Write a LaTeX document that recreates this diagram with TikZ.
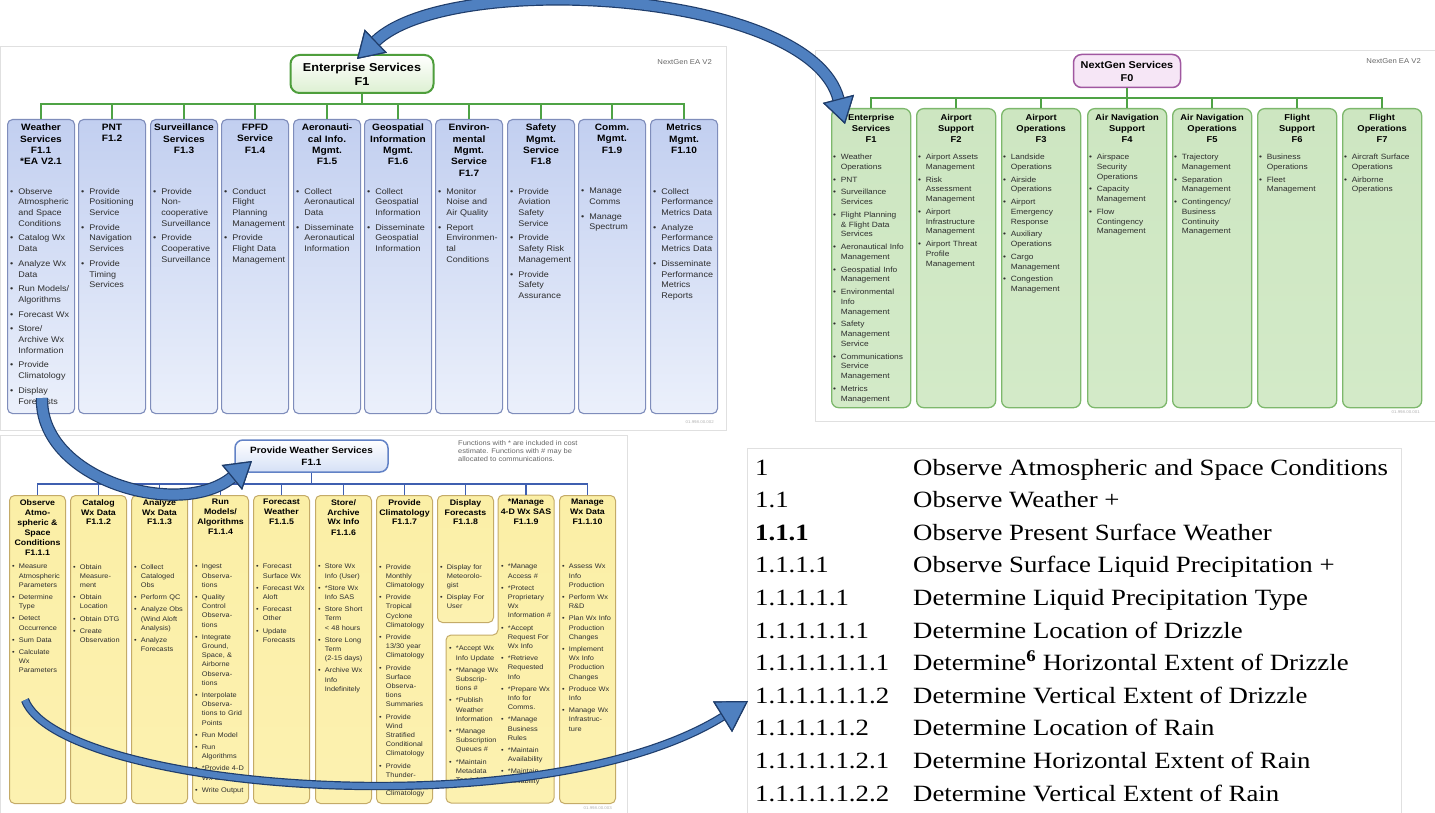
\documentclass[tikz,border=0pt]{standalone}
\usepackage{fontspec}
\setmainfont{Liberation Sans}[FakeStretch=1.1]
\newfontfamily\docfont{Liberation Serif}[FakeStretch=1.15]
\usetikzlibrary{positioning, arrows.meta}
\hyphenpenalty=10000
\exhyphenpenalty=10000

\definecolor{panelline}{HTML}{E0E0E0}
\definecolor{acoledge}{HTML}{7F8DBB}
\definecolor{acoltop}{HTML}{C2CFF0}
\definecolor{acolbot}{HTML}{EBF0FB}
\definecolor{bcoledge}{HTML}{7DB86C}
\definecolor{bcoltop}{HTML}{CDE6C1}
\definecolor{bcolmid}{HTML}{EDF7E8}
\definecolor{bcolbot}{HTML}{D3EAC8}
\definecolor{ccoledge}{HTML}{C4AB68}
\definecolor{ccoltop}{HTML}{FBEFA6}
\definecolor{ccolmid}{HTML}{FEF9D8}
\definecolor{ccolbot}{HTML}{FCF1B0}
\definecolor{entedge}{HTML}{4E9E3C}
\definecolor{entfill}{HTML}{DDF0D2}
\definecolor{ngedge}{HTML}{A057A0}
\definecolor{ngfill}{HTML}{F6E6F6}
\definecolor{pwedge}{HTML}{6282C6}
\definecolor{pwfill}{HTML}{D5E0F6}
\definecolor{linegreen}{HTML}{4FA345}
\definecolor{lineblue}{HTML}{3F5FB0}
\definecolor{listgray}{HTML}{2E2E2E}
\definecolor{vergray}{HTML}{666666}
\definecolor{arrowfill}{HTML}{4F80C0}
\definecolor{arrowedge}{HTML}{1F3D6B}

\newlength{\itmgap}
\newcommand{\brk}{\newline}
\newcommand{\itm}[1]{\hangindent=1em\hangafter=1\noindent\makebox[1em][l]{\textbullet}#1\par\vspace{\itmgap}}

\tikzset{panel/.style={draw=panelline, fill=white, line width=0.8pt},
         entbox/.style={draw=entedge, line width=2pt, rounded corners=9pt, top color=white, bottom color=entfill, minimum width=143pt, minimum height=38pt, align=center, font=\fontsize{11.5}{14}\selectfont\bfseries},
         ngbox/.style={draw=ngedge, line width=1.5pt, rounded corners=8pt, fill=ngfill, minimum width=107pt, minimum height=33pt, align=center, font=\fontsize{9.9}{13}\selectfont\bfseries},
         pwbox/.style={draw=pwedge, line width=1.5pt, rounded corners=8pt, top color=white, bottom color=pwfill, minimum width=153pt, minimum height=32pt, align=center, font=\fontsize{9.1}{12}\selectfont\bfseries},
         acol/.style={draw=acoledge, line width=1.1pt, rounded corners=5pt, top color=acoltop, bottom color=acolbot, minimum width=67pt, minimum height=294pt, inner sep=0pt, anchor=north west},
         bcol/.style={draw=bcoledge, line width=1.3pt, rounded corners=7pt, top color=bcoltop, middle color=bcolmid, bottom color=bcolbot, minimum width=79pt, minimum height=299pt, inner sep=0pt, anchor=north west},
         ccol/.style={draw=ccoledge, line width=1pt, rounded corners=5pt, top color=ccoltop, middle color=ccolmid, bottom color=ccolbot, minimum width=56pt, minimum height=308pt, inner sep=0pt, anchor=north west},
         ccolshape/.style={draw=ccoledge, line width=1pt, rounded corners=5pt, top color=ccoltop, middle color=ccolmid, bottom color=ccolbot},
         atitle/.style={align=center, inner sep=0pt, font=\fontsize{9.2}{11.3}\selectfont\bfseries},
         btitle/.style={align=center, inner sep=0pt, font=\fontsize{8.5}{11}\selectfont\bfseries},
         ctitle/.style={align=center, inner sep=0pt, font=\fontsize{8}{10}\selectfont\bfseries},
         alist/.style={text width=64pt, align=left, inner sep=0pt, text=listgray, font=\fontsize{8.2}{10.7}\selectfont\setlength{\itmgap}{4pt}},
         blist/.style={text width=76pt, align=left, inner sep=0pt, text=listgray, font=\fontsize{7.6}{9.75}\selectfont\setlength{\itmgap}{3pt}},
         clist/.style={text width=53pt, align=left, inner sep=0pt, text=listgray, font=\fontsize{6.7}{9.2}\selectfont\setlength{\itmgap}{3pt}},
         gbus/.style={draw=linegreen, line width=1.6pt},
         cbus/.style={draw=lineblue, line width=1.1pt},
         ver/.style={font=\fontsize{7}{8}\selectfont, text=vergray, inner sep=0pt, anchor=east},
         idtag/.style={font=\fontsize{4}{5}\selectfont, text=black!30, inner sep=0pt, anchor=east},
         note/.style={font=\fontsize{6.8}{8}\selectfont, text=vergray, align=left, inner sep=0pt, anchor=north west},
         num/.style={font=\docfont\fontsize{23.3}{26}\selectfont, inner sep=0pt, anchor=base west},
         bigarrow/.style={>={Triangle[length=26pt,width=32pt,line width=1.2pt,color=arrowedge,fill=arrowfill]}, draw=arrowfill, line width=10pt, preaction={draw=arrowedge, line width=12.4pt}},
         longarrow/.style={>={Triangle[length=30pt,width=36pt,line width=1.2pt,color=arrowedge,fill=arrowfill]}, draw=arrowfill, line width=6pt, preaction={draw=arrowedge, line width=8.4pt}},
        }

\begin{document}
\begin{tikzpicture}[x=1pt,y=-1pt]
        \useasboundingbox (0,0) rectangle (1435,813);

        \draw[panel] (0,46) rectangle (726,430);
        \draw[panel] (815,50) rectangle (1435,421);
        \draw[panel] (0,435) rectangle (627,813);
        \draw[panel] (747,448) rectangle (1401,813);

        % enterprise services
        \node[entbox](ent)at(362,74){Enterprise Services\\F1};
        \node[ver](verA)at(712,62){NextGen EA V2};
        \coordinate(busA)at(362,104);

        \node[acol](a1)at(7,119){};
        \node[acol](a2)at(78,119){};
        \node[acol](a3)at(150,119){};
        \node[acol](a4)at(221,119){};
        \node[acol](a5)at(293,119){};
        \node[acol](a6)at(364,119){};
        \node[acol](a7)at(435,119){};
        \node[acol](a8)at(507,119){};
        \node[acol](a9)at(578,119){};
        \node[acol](a10)at(650,119){};

        \node[atitle, below=5pt of a1.north](a1t){Weather\\Services\\F1.1\\*EA V2.1};
        \node[atitle, below=5pt of a2.north](a2t){PNT\\F1.2};
        \node[atitle, below=5pt of a3.north](a3t){Surveillance\\Services\\F1.3};
        \node[atitle, below=5pt of a4.north](a4t){FPFD\\Service\\F1.4};
        \node[atitle, below=5pt of a5.north](a5t){Aeronauti-\\cal Info.\\Mgmt.\\F1.5};
        \node[atitle, below=5pt of a6.north](a6t){Geospatial\\Information\\Mgmt.\\F1.6};
        \node[atitle, below=5pt of a7.north](a7t){Environ-\\mental\\Mgmt.\\Service\\F1.7};
        \node[atitle, below=5pt of a8.north](a8t){Safety\\Mgmt.\\Service\\F1.8};
        \node[atitle, below=5pt of a9.north](a9t){Comm.\\Mgmt.\\F1.9};
        \node[atitle, below=5pt of a10.north](a10t){Metrics\\Mgmt.\\F1.10};

        \node[alist, below right=69pt and 3pt of a1.north west](a1l){\itm{Observe\brk Atmospheric\brk and Space\brk Conditions}\itm{Catalog Wx\brk Data}\itm{Analyze Wx\brk Data}\itm{Run Models/\brk Algorithms}\itm{Forecast Wx}\itm{Store/\brk Archive Wx\brk Information}\itm{Provide\brk Climatology}\itm{Display\brk Forecasts}};
        \node[alist, below right=69pt and 3pt of a2.north west](a2l){\itm{Provide\brk Positioning\brk Service}\itm{Provide\brk Navigation\brk Services}\itm{Provide\brk Timing\brk Services}};
        \node[alist, below right=69pt and 3pt of a3.north west](a3l){\itm{Provide\brk Non-\brk cooperative\brk Surveillance}\itm{Provide\brk Cooperative\brk Surveillance}};
        \node[alist, below right=69pt and 3pt of a4.north west](a4l){\itm{Conduct\brk Flight\brk Planning\brk Management}\itm{Provide\brk Flight Data\brk Management}};
        \node[alist, below right=69pt and 3pt of a5.north west](a5l){\itm{Collect\brk Aeronautical\brk Data}\itm{Disseminate\brk Aeronautical\brk Information}};
        \node[alist, below right=69pt and 3pt of a6.north west](a6l){\itm{Collect\brk Geospatial\brk Information}\itm{Disseminate\brk Geospatial\brk Information}};
        \node[alist, below right=69pt and 3pt of a7.north west](a7l){\itm{Monitor\brk Noise and\brk Air Quality}\itm{Report\brk Environmen-\brk tal\brk Conditions}};
        \node[alist, below right=69pt and 3pt of a8.north west](a8l){\itm{Provide\brk Aviation\brk Safety\brk Service}\itm{Provide\brk Safety Risk\brk Management}\itm{Provide\brk Safety\brk Assurance}};
        \node[alist, below right=69pt and 3pt of a9.north west](a9l){\itm{Manage\brk Comms}\itm{Manage\brk Spectrum}};
        \node[alist, below right=69pt and 3pt of a10.north west](a10l){\itm{Collect\brk Performance\brk Metrics Data}\itm{Analyze\brk Performance\brk Metrics Data}\itm{Disseminate\brk Performance\brk Metrics\brk Reports}};

        \draw[gbus](ent)--(busA);
        \draw[gbus](a1.north)|-(busA)-|(a10.north);
        \draw[gbus](a2.north)--(a2.north|-busA);
        \draw[gbus](a3.north)--(a3.north|-busA);
        \draw[gbus](a4.north)--(a4.north|-busA);
        \draw[gbus](a5.north)--(a5.north|-busA);
        \draw[gbus](a6.north)--(a6.north|-busA);
        \draw[gbus](a7.north)--(a7.north|-busA);
        \draw[gbus](a8.north)--(a8.north|-busA);
        \draw[gbus](a9.north)--(a9.north|-busA);
        \node[idtag](idA)at(714,422){01.998.00.002};

        % nextgen services
        \node[ngbox](ngs)at(1127,71){NextGen Services\\F0};
        \node[ver](verB)at(1421,61){NextGen EA V2};
        \coordinate(busB)at(1127,98);

        \node[bcol](b1)at(831,108){};
        \node[bcol](b2)at(916,108){};
        \node[bcol](b3)at(1001,108){};
        \node[bcol](b4)at(1087,108){};
        \node[bcol](b5)at(1172,108){};
        \node[bcol](b6)at(1257,108){};
        \node[bcol](b7)at(1342,108){};

        \node[btitle, below=6pt of b1.north](b1t){Enterprise\\Services\\F1};
        \node[btitle, below=6pt of b2.north](b2t){Airport\\Support\\F2};
        \node[btitle, below=6pt of b3.north](b3t){Airport\\Operations\\F3};
        \node[btitle, below=6pt of b4.north](b4t){Air Navigation\\Support\\F4};
        \node[btitle, below=6pt of b5.north](b5t){Air Navigation\\Operations\\F5};
        \node[btitle, below=6pt of b6.north](b6t){Flight\\Support\\F6};
        \node[btitle, below=6pt of b7.north](b7t){Flight\\Operations\\F7};

        \node[blist, below right=46pt and 2pt of b1.north west](b1l){\itm{Weather\brk Operations}\itm{PNT}\itm{Surveillance\brk Services}\itm{Flight Planning\brk \& Flight Data\brk Services}\itm{Aeronautical Info\brk Management}\itm{Geospatial Info\brk Management}\itm{Environmental\brk Info\brk Management}\itm{Safety\brk Management\brk Service}\itm{Communications\brk Service\brk Management}\itm{Metrics\brk Management}};
        \node[blist, below right=46pt and 2pt of b2.north west](b2l){\itm{Airport Assets\brk Management}\itm{Risk\brk Assessment\brk Management}\itm{Airport\brk Infrastructure\brk Management}\itm{Airport Threat\brk Profile\brk Management}};
        \node[blist, below right=46pt and 2pt of b3.north west](b3l){\itm{Landside\brk Operations}\itm{Airside\brk Operations}\itm{Airport\brk Emergency\brk Response}\itm{Auxiliary\brk Operations}\itm{Cargo\brk Management}\itm{Congestion\brk Management}};
        \node[blist, below right=46pt and 2pt of b4.north west](b4l){\itm{Airspace\brk Security\brk Operations}\itm{Capacity\brk Management}\itm{Flow\brk Contingency\brk Management}};
        \node[blist, below right=46pt and 2pt of b5.north west](b5l){\itm{Trajectory\brk Management}\itm{Separation\brk Management}\itm{Contingency/\brk Business\brk Continuity\brk Management}};
        \node[blist, below right=46pt and 2pt of b6.north west](b6l){\itm{Business\brk Operations}\itm{Fleet\brk Management}};
        \node[blist, below right=46pt and 2pt of b7.north west](b7l){\itm{Aircraft Surface\brk Operations}\itm{Airborne\brk Operations}};

        \draw[gbus](ngs)--(busB);
        \draw[gbus](b1.north)|-(busB)-|(b7.north);
        \draw[gbus](b2.north)--(b2.north|-busB);
        \draw[gbus](b3.north)--(b3.north|-busB);
        \draw[gbus](b4.north)--(b4.north|-busB);
        \draw[gbus](b5.north)--(b5.north|-busB);
        \draw[gbus](b6.north)--(b6.north|-busB);
        \node[idtag](idB)at(1420,412){01.998.00.001};

        % weather services
        \node[pwbox](pws)at(311.5,456){Provide Weather Services\\F1.1};
        \node[note](fnote)at(458,440){Functions with * are included in cost\\estimate. Functions with \# may be\\allocated to communications.};
        \coordinate(busC)at(311.5,484);

        \node[ccol](c1)at(9,495){};
        \node[ccol](c2)at(70,495){};
        \node[ccol](c3)at(131,495){};
        \node[ccol](c4)at(192,495){};
        \node[ccol](c5)at(253,495){};
        \node[ccol](c6)at(315,495){};
        \node[ccol](c7)at(376,495){};
        \node[ccol, minimum height=127pt](c8)at(437,495){};
        \draw[ccolshape](498,495)--(554,495)--(554,803)--(446,803)--(446,635)--(498,635)--cycle;
        \coordinate(c9)at(526,495);
        \node[ccol](c10)at(559,495){};

        \node[ctitle, below=4pt of c1.north](c1t){Observe\\Atmo-\\spheric \&\\Space\\Conditions\\F1.1.1};
        \node[ctitle, below=4pt of c2.north](c2t){Catalog\\Wx Data\\F1.1.2};
        \node[ctitle, below=4pt of c3.north](c3t){Analyze\\Wx Data\\F1.1.3};
        \node[ctitle, below=4pt of c4.north](c4t){Run\\Models/\\Algorithms\\F1.1.4};
        \node[ctitle, below=4pt of c5.north](c5t){Forecast\\Weather\\F1.1.5};
        \node[ctitle, below=4pt of c6.north](c6t){Store/\\Archive\\Wx Info\\F1.1.6};
        \node[ctitle, below=4pt of c7.north](c7t){Provide\\Climatology\\F1.1.7};
        \node[ctitle, below=4pt of c8.north](c8t){Display\\Forecasts\\F1.1.8};
        \node[ctitle, below=4pt of c9](c9t){*Manage\\4-D Wx SAS\\F1.1.9};
        \node[ctitle, below=4pt of c10.north](c10t){Manage\\Wx Data\\F1.1.10};

        \node[clist, below right=69pt and 3pt of c1.north west](c1l){\itm{Measure\brk Atmospheric\brk Parameters}\itm{Determine\brk Type}\itm{Detect\brk Occurrence}\itm{Sum Data}\itm{Calculate\brk Wx\brk Parameters}};
        \node[clist, below right=69pt and 3pt of c2.north west](c2l){\itm{Obtain\brk Measure-\brk ment}\itm{Obtain\brk Location}\itm{Obtain DTG}\itm{Create\brk Observation}};
        \node[clist, below right=69pt and 3pt of c3.north west](c3l){\itm{Collect\brk Cataloged\brk Obs}\itm{Perform QC}\itm{Analyze Obs\brk (Wind Aloft\brk Analysis)}\itm{Analyze\brk Forecasts}};
        \node[clist, below right=69pt and 3pt of c4.north west](c4l){\itm{Ingest\brk Observa-\brk tions}\itm{Quality\brk Control\brk Observa-\brk tions}\itm{Integrate\brk Ground,\brk Space, \&\brk Airborne\brk Observa-\brk tions}\itm{Interpolate\brk Observa-\brk tions to Grid\brk Points}\itm{Run Model}\itm{Run\brk Algorithms}\itm{*Provide 4-D\brk Wx SAS}\itm{Write Output}};
        \node[clist, below right=69pt and 3pt of c5.north west](c5l){\itm{Forecast\brk Surface Wx}\itm{Forecast Wx\brk Aloft}\itm{Forecast\brk Other}\itm{Update\brk Forecasts}};
        \node[clist, below right=69pt and 3pt of c6.north west](c6l){\itm{Store Wx\brk Info (User)}\itm{*Store Wx\brk Info SAS}\itm{Store Short\brk Term\brk < 48 hours}\itm{Store Long\brk Term\brk (2-15 days)}\itm{Archive Wx\brk Info\brk Indefinitely}};
        \node[clist, below right=69pt and 3pt of c7.north west](c7l){\itm{Provide\brk Monthly\brk Climatology}\itm{Provide\brk Tropical\brk Cyclone\brk Climatology}\itm{Provide\brk 13/30 year\brk Climatology}\itm{Provide\brk Surface\brk Observa-\brk tions\brk Summaries}\itm{Provide\brk Wind\brk Stratified\brk Conditional\brk Climatology}\itm{Provide\brk Thunder-\brk storm\brk Climatology}};
        \node[clist, below right=69pt and 3pt of c8.north west](c8l){\itm{Display for\brk Meteorolo-\brk gist}\itm{Display For\brk User}};
        \node[clist, anchor=north west](c9l)at(501,564){\itm{*Manage\brk Access \#}\itm{*Protect\brk Proprietary\brk Wx\brk Information \#}\itm{*Accept\brk Request For\brk Wx Info}\itm{*Retrieve\brk Requested\brk Info}\itm{*Prepare Wx\brk Info for\brk Comms.}\itm{*Manage\brk Business\brk Rules}\itm{*Maintain\brk Availability}\itm{*Maintain\brk Reliability}};
        \node[clist, anchor=north west](c9m)at(449,646){\itm{*Accept Wx\brk Info Update}\itm{*Manage Wx\brk Subscrip-\brk tions \#}\itm{*Publish\brk Weather\brk Information}\itm{*Manage\brk Subscription\brk Queues \#}\itm{*Maintain\brk Metadata\brk Tag Info}};
        \node[clist, below right=69pt and 3pt of c10.north west](c10l){\itm{Assess Wx\brk Info\brk Production}\itm{Perform Wx\brk R\&D}\itm{Plan Wx Info\brk Production\brk Changes}\itm{Implement\brk Wx Info\brk Production\brk Changes}\itm{Produce Wx\brk Info}\itm{Manage Wx\brk Infrastruc-\brk ture}};

        \draw[cbus](pws)--(busC);
        \draw[cbus](c1.north)|-(busC)-|(c10.north);
        \draw[cbus](c2.north)--(c2.north|-busC);
        \draw[cbus](c3.north)--(c3.north|-busC);
        \draw[cbus](c4.north)--(c4.north|-busC);
        \draw[cbus](c5.north)--(c5.north|-busC);
        \draw[cbus](c6.north)--(c6.north|-busC);
        \draw[cbus](c7.north)--(c7.north|-busC);
        \draw[cbus](c8.north)--(c8.north|-busC);
        \draw[cbus](c9)--(c9|-busC);
        \node[idtag](idC)at(612,808){01.998.00.003};

        % numbered functions
        \node[num](r1)at(755,475){1};
        \node[num](d1)at(913,475){Observe Atmospheric and Space Conditions};
        \node[num](r2)at(755,507.6){1.1};
        \node[num](d2)at(913,507.6){Observe Weather +};
        \node[num](r3)at(755,540.2){\bfseries 1.1.1};
        \node[num](d3)at(913,540.2){Observe Present Surface Weather};
        \node[num](r4)at(755,572.8){1.1.1.1};
        \node[num](d4)at(913,572.8){Observe Surface Liquid Precipitation +};
        \node[num](r5)at(755,605.4){1.1.1.1.1};
        \node[num](d5)at(913,605.4){Determine Liquid Precipitation Type};
        \node[num](r6)at(755,638){1.1.1.1.1.1};
        \node[num](d6)at(913,638){Determine Location of Drizzle};
        \node[num](r7)at(755,670.6){1.1.1.1.1.1.1};
        \node[num](d7)at(913,670.6){Determine\textsuperscript{\bfseries 6} Horizontal Extent of Drizzle};
        \node[num](r8)at(755,703.2){1.1.1.1.1.1.2};
        \node[num](d8)at(913,703.2){Determine Vertical Extent of Drizzle};
        \node[num](r9)at(755,735.8){1.1.1.1.1.2};
        \node[num](d9)at(913,735.8){Determine Location of Rain};
        \node[num](r10)at(755,768.4){1.1.1.1.1.2.1};
        \node[num](d10)at(913,768.4){Determine Horizontal Extent of Rain};
        \node[num](r11)at(755,801){1.1.1.1.1.2.2};
        \node[num](d11)at(913,801){Determine Vertical Extent of Rain};

        % links between the views
        \coordinate(ar1)at(845,124);
        \coordinate(al1)at(357,59);
        \coordinate(ws2)at(42,398);
        \coordinate(we2)at(252,461);
        \coordinate(ls3)at(25,700);
        \coordinate(le3)at(748,701);
        \draw[bigarrow,<->](ar1)..controls(810,-10)and(450,-30)..(al1);
        \draw[bigarrow,->](ws2)..controls(40,480)and(180,520)..(we2);
        \draw[longarrow,->](ls3)..controls(60,790)and(540,830)..(le3);
\end{tikzpicture}
\end{document}
